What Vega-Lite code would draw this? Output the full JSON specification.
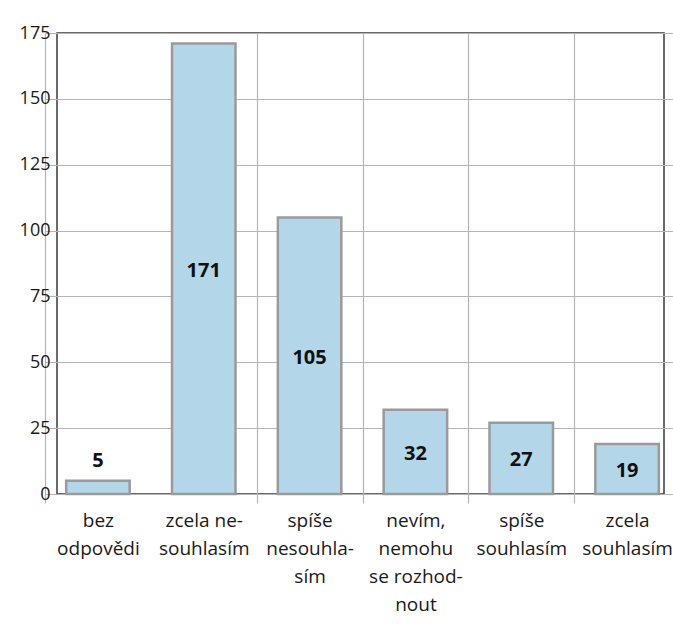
{
  "$schema": "https://vega.github.io/schema/vega-lite/v6.json",
  "width": 607,
  "height": 461,
  "autosize": {"type": "none"},
  "padding": {"left": 57, "top": 33, "right": 9, "bottom": 138},
  "background": "white",
  "config": {
    "font": "Open Sans",
    "view": {"stroke": "#3a3a3a", "strokeWidth": 1.5}
  },
  "data": {
    "values": [
      {"odpoved": "bez odpovědi", "pocet": 5},
      {"odpoved": "zcela nesouhlasím", "pocet": 171},
      {"odpoved": "spíše nesouhlasím", "pocet": 105},
      {"odpoved": "nevím, nemohu se rozhodnout", "pocet": 32},
      {"odpoved": "spíše souhlasím", "pocet": 27},
      {"odpoved": "zcela souhlasím", "pocet": 19}
    ]
  },
  "encoding": {
    "x": {
      "field": "odpoved",
      "type": "nominal",
      "sort": null,
      "scale": {"range": [-12, 623], "paddingInner": 0, "paddingOuter": 0},
      "axis": {
        "title": null,
        "domain": false,
        "tickBand": "extent",
        "tickSize": 9,
        "tickWidth": 1.2,
        "tickColor": {"condition": {"test": "datum.value === 'bez odpovědi'", "value": "transparent"}, "value": "#b5b5b5"},
        "grid": true,
        "gridWidth": 1.2,
        "gridColor": {"condition": {"test": "datum.value === 'bez odpovědi'", "value": "transparent"}, "value": "#b5b5b5"},
        "labelAngle": 0,
        "labelFontSize": 19,
        "labelColor": "#1a1a1a",
        "labelBaseline": "top",
        "labelLineHeight": 28,
        "labelPadding": 8,
        "labelOverlap": false,
        "labelBound": false,
        "labelLimit": 0,
        "labelExpr": "!datum.value ? '' : datum.value === 'bez odpovědi' ? ['bez', 'odpovědi'] : datum.value === 'zcela nesouhlasím' ? ['zcela ne-', 'souhlasím'] : datum.value === 'spíše nesouhlasím' ? ['spíše', 'nesouhla-', 'sím'] : datum.value === 'nevím, nemohu se rozhodnout' ? ['nevím,', 'nemohu', 'se rozhod-', 'nout'] : datum.value === 'spíše souhlasím' ? ['spíše', 'souhlasím'] : datum.value === 'zcela souhlasím' ? ['zcela', 'souhlasím'] : ''"
      }
    }
  },
  "layer": [
    {
      "mark": {"type": "bar", "fill": "#b3d7e8", "stroke": "#9a9a9a", "strokeWidth": 2.5, "width": {"band": 0.6}},
      "encoding": {
        "y": {
          "field": "pocet",
          "type": "quantitative",
          "scale": {"domain": [0, 175], "nice": false},
          "axis": {
            "title": null,
            "domain": false,
            "values": [0, 25, 50, 75, 100, 125, 150, 175],
            "tickSize": 4,
            "tickWidth": 1.2,
            "tickColor": "#b5b5b5",
            "grid": true,
            "gridColor": "#b5b5b5",
            "gridWidth": 1.2,
            "labelFontSize": 18,
            "labelColor": "#1a1a1a",
            "labelPadding": 3
          }
        }
      }
    },
    {
      "transform": [
        {"filter": "datum.pocet >= 10"},
        {"calculate": "datum.pocet / 2", "as": "stred"}
      ],
      "mark": {"type": "text", "fontWeight": "bold", "fontSize": 20, "baseline": "middle", "dy": 2, "color": "#111"},
      "encoding": {
        "y": {"field": "stred", "type": "quantitative"},
        "text": {"field": "pocet", "type": "quantitative"}
      }
    },
    {
      "transform": [{"filter": "datum.pocet < 10"}],
      "mark": {"type": "text", "fontWeight": "bold", "fontSize": 20, "baseline": "alphabetic", "dy": -14, "color": "#111"},
      "encoding": {
        "y": {"field": "pocet", "type": "quantitative"},
        "text": {"field": "pocet", "type": "quantitative"}
      }
    }
  ]
}
